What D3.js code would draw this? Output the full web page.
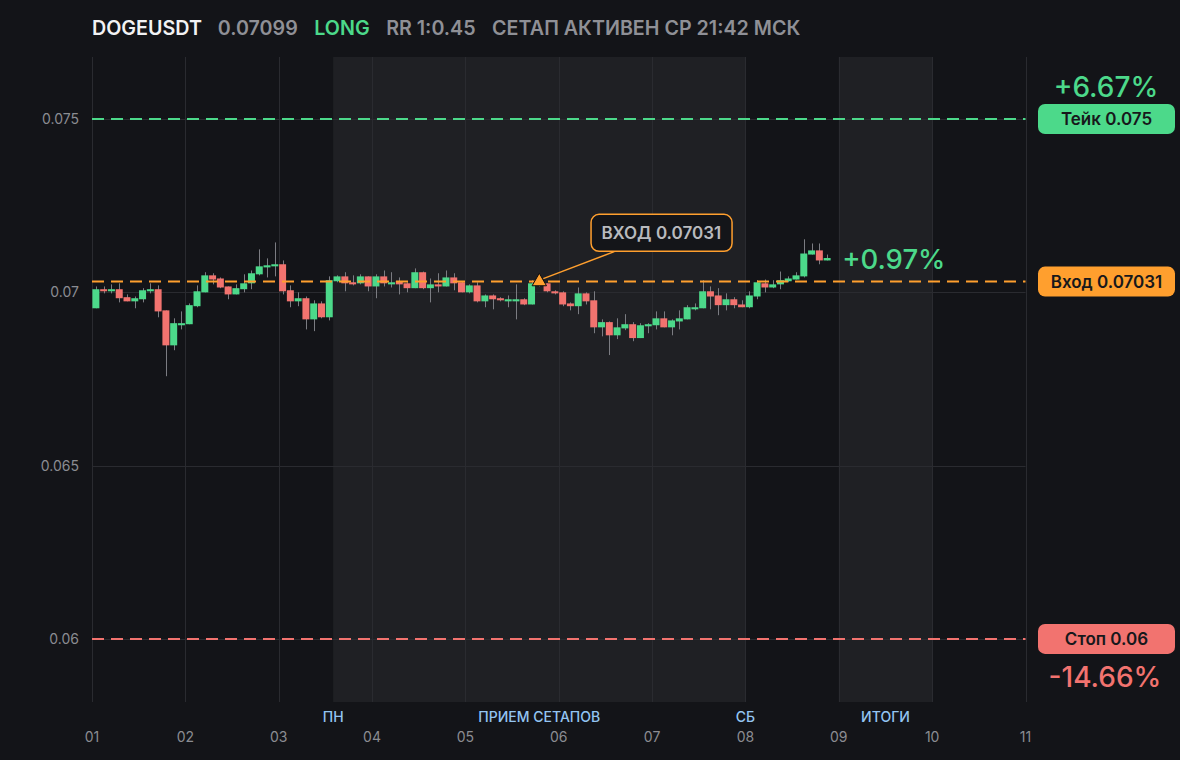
<!DOCTYPE html>
<html lang="ru">
<head>
<meta charset="UTF-8">
<title>DOGEUSDT</title>
<script src="https://d3js.org/d3.v7.min.js"></script>
<style>
  html, body { margin: 0; padding: 0; background: #131418; }
  svg { display: block; font-family: Inter, "Noto Sans", sans-serif; }
</style>
</head>
<body>
<div id="chart"></div>
<script>
// 2h candles starting on day 01
const opens  = [0.06954,0.07009,0.07003,0.07009,0.06986,0.06974,0.06980,0.07003,0.07009,0.06948,
                0.06847,0.06905,0.06908,0.06960,0.07000,0.07049,0.07040,0.07017,0.06994,0.07009,
                0.07026,0.07052,0.07072,0.07075,0.07081,0.07006,0.06974,0.06983,0.06922,0.06968,
                0.06928,0.07032,0.07046,0.07029,0.07026,0.07046,0.07017,0.07046,0.07023,0.07032,
                0.07026,0.07012,0.07058,0.07012,0.07023,0.07017,0.07043,0.07029,0.07000,0.07020,
                0.06974,0.06991,0.06983,0.06974,0.06974,0.06980,0.06965,0.07026,0.07026,0.07003,
                0.07000,0.06968,0.06960,0.06997,0.06977,0.06899,0.06914,0.06876,0.06896,0.06908,
                0.06868,0.06902,0.06905,0.06925,0.06899,0.06916,0.06922,0.06951,0.06954,0.07003,
                0.06991,0.06963,0.06980,0.06965,0.06957,0.06988,0.07026,0.07014,0.07023,0.07032,
                0.07037,0.07046,0.07109,0.07121,0.07092];
const highs  = [0.07017,0.07017,0.07023,0.07026,0.06994,0.06988,0.07012,0.07026,0.07020,0.06948,
                0.06925,0.06945,0.06968,0.07020,0.07058,0.07055,0.07043,0.07017,0.07023,0.07052,
                0.07063,0.07124,0.07098,0.07144,0.07092,0.07020,0.07000,0.06988,0.06977,0.06974,
                0.07046,0.07049,0.07058,0.07049,0.07052,0.07046,0.07052,0.07063,0.07058,0.07043,
                0.07029,0.07069,0.07060,0.07040,0.07055,0.07063,0.07055,0.07032,0.07023,0.07029,
                0.06994,0.06994,0.06986,0.06991,0.07023,0.06983,0.07035,0.07035,0.07026,0.07006,
                0.07003,0.06971,0.07014,0.07000,0.07003,0.06922,0.06916,0.06925,0.06937,0.06914,
                0.06911,0.06911,0.06945,0.06945,0.06922,0.06948,0.06963,0.06968,0.07035,0.07017,
                0.07012,0.06997,0.06986,0.06977,0.07003,0.07035,0.07037,0.07035,0.07060,0.07046,
                0.07058,0.07153,0.07141,0.07141,0.07109];
const lows   = [0.06954,0.06997,0.06997,0.06971,0.06974,0.06954,0.06971,0.06997,0.06928,0.06758,
                0.06833,0.06893,0.06908,0.06957,0.07000,0.07023,0.07012,0.06980,0.06994,0.07000,
                0.07009,0.07049,0.07043,0.07046,0.06994,0.06957,0.06960,0.06893,0.06888,0.06925,
                0.06919,0.07029,0.07003,0.07020,0.07023,0.07003,0.06983,0.07017,0.07014,0.06994,
                0.07000,0.07012,0.07009,0.06971,0.07000,0.07017,0.07006,0.07000,0.06997,0.06971,
                0.06957,0.06951,0.06974,0.06957,0.06922,0.06963,0.06965,0.07017,0.07000,0.06994,
                0.06960,0.06948,0.06937,0.06965,0.06882,0.06873,0.06819,0.06865,0.06891,0.06859,
                0.06868,0.06882,0.06893,0.06899,0.06876,0.06893,0.06922,0.06948,0.06954,0.06951,
                0.06934,0.06948,0.06954,0.06957,0.06954,0.06980,0.07000,0.07012,0.07009,0.07029,
                0.07037,0.07043,0.07109,0.07081,0.07092];
const closes = [0.07009,0.07003,0.07009,0.06983,0.06974,0.06983,0.07006,0.07009,0.06945,0.06847,
                0.06911,0.06911,0.06963,0.07003,0.07049,0.07037,0.07014,0.06994,0.07012,0.07026,
                0.07055,0.07075,0.07078,0.07081,0.07003,0.06974,0.06983,0.06922,0.06968,0.06928,
                0.07035,0.07046,0.07026,0.07023,0.07046,0.07017,0.07046,0.07026,0.07029,0.07023,
                0.07012,0.07058,0.07012,0.07023,0.07017,0.07043,0.07026,0.07000,0.07020,0.06974,
                0.06991,0.06980,0.06977,0.06980,0.06980,0.06965,0.07026,0.07023,0.07003,0.06997,
                0.06965,0.06960,0.06997,0.06974,0.06899,0.06914,0.06876,0.06899,0.06908,0.06868,
                0.06905,0.06908,0.06925,0.06899,0.06919,0.06925,0.06957,0.06957,0.07003,0.06988,
                0.06963,0.06980,0.06963,0.06957,0.06991,0.07029,0.07014,0.07023,0.07035,0.07040,
                0.07049,0.07112,0.07121,0.07092,0.07099];

const candlesPerDay = 12;
const entryIndex = 57;

const takePrice = 0.075;
const entryPrice = 0.07031;
const stopPrice = 0.06;
const lastPrice = closes[closes.length - 1];

const dayLabels = ["01", "02", "03", "04", "05", "06", "07", "08", "09", "10", "11"];
const priceTicks = [0.06, 0.065, 0.07, 0.075];

// shaded sessions, in day units
const bands = [[3 + 14 / 24, 8], [9, 10]];
const sessionLabels = ["ПН", "ПРИЕМ СЕТАПОВ", "СБ", "ИТОГИ"];
const sessionAt = [3 + 14 / 24, (3 + 14 / 24 + 8) / 2, 8, 9.5];

const W = 1180, H = 760;
const GREEN = "#4cd98a", RED = "#f2736f", ORANGE = "#ff9f2e";

const svg = d3.select("#chart").append("svg")
    .attr("width", W)
    .attr("height", H);

svg.append("rect").attr("width", W).attr("height", H).attr("fill", "#131418");

const x = d3.scaleLinear().domain([1, 11]).range([92, 1025.5]);
const y = d3.scaleLinear().domain([0.05818, 0.07679]).range([702, 57]);
const plotTop = y.range()[1], plotBottom = y.range()[0];
const plotLeft = x.range()[0], plotRight = x.range()[1];

// bands
svg.append("g").selectAll("rect")
    .data(bands)
    .join("rect")
    .attr("x", d => x(d[0]))
    .attr("width", d => x(d[1]) - x(d[0]))
    .attr("y", plotTop)
    .attr("height", plotBottom - plotTop)
    .attr("fill", "#1f2024");

// grid
const grid = svg.append("g").attr("stroke", "#2a2b30").attr("stroke-width", 1);
grid.selectAll(".v")
    .data(dayLabels)
    .join("line")
    .attr("class", "v")
    .attr("x1", (d, i) => Math.round(x(i + 1)) + 0.5)
    .attr("x2", (d, i) => Math.round(x(i + 1)) + 0.5)
    .attr("y1", plotTop)
    .attr("y2", plotBottom);
grid.selectAll(".h")
    .data(priceTicks)
    .join("line")
    .attr("class", "h")
    .attr("x1", plotLeft)
    .attr("x2", plotRight)
    .attr("y1", d => Math.round(y(d)) + 0.5)
    .attr("y2", d => Math.round(y(d)) + 0.5);

// y tick labels
svg.append("g").selectAll("text")
    .data(priceTicks)
    .join("text")
    .attr("x", 79)
    .attr("y", d => y(d) + 5)
    .attr("text-anchor", "end")
    .attr("fill", "#8b8c92")
    .attr("font-size", 14)
    .text(d => String(d));

// x tick labels
svg.append("g").selectAll("text")
    .data(dayLabels)
    .join("text")
    .attr("x", (d, i) => x(i + 1))
    .attr("y", 742)
    .attr("text-anchor", "middle")
    .attr("fill", "#8b8c92")
    .attr("font-size", 14)
    .text(d => d);

// session labels
svg.append("g").selectAll("text")
    .data(sessionLabels)
    .join("text")
    .attr("x", (d, i) => x(sessionAt[i]))
    .attr("y", 722)
    .attr("text-anchor", "middle")
    .attr("fill", "#93c5f2")
    .attr("font-size", 14)
    .attr("font-weight", 500)
    .text(d => d);

// candles
const step = (x(2) - x(1)) / candlesPerDay;
const bodyW = step * 0.9;
const cx = i => x(1 + (i + 0.5) / candlesPerDay);
const candles = svg.append("g");
candles.selectAll("line")
    .data(closes)
    .join("line")
    .attr("x1", (d, i) => Math.round(cx(i)) + 0.5)
    .attr("x2", (d, i) => Math.round(cx(i)) + 0.5)
    .attr("y1", (d, i) => y(highs[i]))
    .attr("y2", (d, i) => y(lows[i]))
    .attr("stroke", "#7b7c82")
    .attr("stroke-width", 1);
candles.selectAll("rect")
    .data(closes)
    .join("rect")
    .attr("x", (d, i) => cx(i) - bodyW / 2)
    .attr("width", bodyW)
    .attr("y", (d, i) => y(Math.max(opens[i], d)))
    .attr("height", (d, i) => Math.max(2, Math.abs(y(opens[i]) - y(d))))
    .attr("fill", (d, i) => d >= opens[i] ? GREEN : RED);

// level lines
const levels = [
    {price: takePrice, color: GREEN, label: "Тейк " + takePrice},
    {price: entryPrice, color: ORANGE, label: "Вход " + entryPrice},
    {price: stopPrice, color: RED, label: "Стоп " + stopPrice}
];
svg.append("g").selectAll("line")
    .data(levels)
    .join("line")
    .attr("x1", plotLeft)
    .attr("x2", plotRight)
    .attr("y1", d => y(d.price))
    .attr("y2", d => y(d.price))
    .attr("stroke", d => d.color)
    .attr("stroke-width", 2)
    .attr("stroke-dasharray", "12 7");

// badges on the right
const badge = svg.append("g").selectAll("g")
    .data(levels)
    .join("g")
    .attr("transform", d => `translate(1038,${y(d.price) - 15})`);
badge.append("rect")
    .attr("width", 137)
    .attr("height", 30)
    .attr("rx", 7)
    .attr("fill", d => d.color);
badge.append("text")
    .attr("x", 68.5)
    .attr("y", 21)
    .attr("text-anchor", "middle")
    .attr("fill", "#17181b")
    .attr("font-size", 17)
    .attr("font-weight", 600)
    .text(d => d.label);

// percent labels
const pct = p => {
    const v = (p / entryPrice - 1) * 100;
    return (v > 0 ? "+" : "") + v.toFixed(2) + "%";
};
svg.append("text")
    .attr("x", 1106).attr("y", y(takePrice) - 22)
    .attr("text-anchor", "middle")
    .attr("fill", GREEN).attr("font-size", 28).attr("font-weight", 500)
    .text(pct(takePrice));
svg.append("text")
    .attr("x", 1105).attr("y", y(stopPrice) + 48)
    .attr("text-anchor", "middle")
    .attr("fill", RED).attr("font-size", 28).attr("font-weight", 500)
    .text(pct(stopPrice));
svg.append("text")
    .attr("x", cx(closes.length - 1) + 15).attr("y", y(lastPrice) + 11)
    .attr("fill", GREEN).attr("font-size", 27.5).attr("font-weight", 500)
    .text(pct(lastPrice));

// entry marker with callout
const ex = cx(entryIndex), ey = y(entryPrice);
svg.append("line")
    .attr("x1", ex + 4).attr("y1", ey - 3)
    .attr("x2", ex + 75).attr("y2", ey - 30)
    .attr("stroke", ORANGE).attr("stroke-width", 1.5);
svg.append("path")
    .attr("d", d3.symbol(d3.symbolTriangle, 90)())
    .attr("transform", `translate(${ex},${ey})`)
    .attr("fill", ORANGE)
    .attr("stroke", "#0b0b0d")
    .attr("stroke-width", 1);
const call = svg.append("g").attr("transform", `translate(${ex + 51},${ey - 68})`);
call.append("rect")
    .attr("x", 0.75).attr("y", 0.75)
    .attr("width", 141).attr("height", 37)
    .attr("rx", 8)
    .attr("fill", "#141519")
    .attr("stroke", ORANGE)
    .attr("stroke-width", 1.5);
call.append("text")
    .attr("x", 71).attr("y", 25)
    .attr("text-anchor", "middle")
    .attr("fill", "#b9babe")
    .attr("font-size", 17)
    .attr("font-weight", 600)
    .text("ВХОД " + entryPrice);

// header
const rr = (takePrice - entryPrice) / (entryPrice - stopPrice);
const header = svg.append("text")
    .attr("x", 92).attr("y", 35)
    .attr("font-size", 19.7)
    .attr("font-weight", 600);
header.append("tspan").attr("fill", "#f2f2f4").text("DOGEUSDT");
header.append("tspan").attr("dx", 16.5).attr("fill", "#8f9096").text(lastPrice.toFixed(5));
header.append("tspan").attr("dx", 16.5).attr("fill", GREEN).text("LONG");
header.append("tspan").attr("dx", 16.5).attr("fill", "#8f9096").text("RR 1:" + rr.toFixed(2));
header.append("tspan").attr("dx", 16.5).attr("fill", "#8f9096").text("СЕТАП АКТИВЕН СР 21:42 МСК");
</script>
</body>
</html>
